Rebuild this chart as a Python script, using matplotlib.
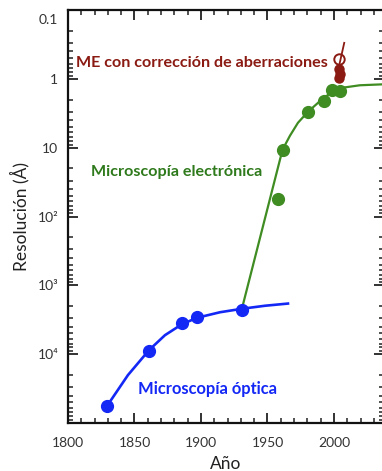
import matplotlib
matplotlib.use('Agg')
import matplotlib.pyplot as plt
import matplotlib.transforms as mtransforms
from matplotlib.ticker import FixedLocator, LogLocator, MultipleLocator, NullFormatter

plt.rcParams['font.family'] = ['Lato', 'DejaVu Sans']

# optical microscopy (year, resolution in angstrom)
optical_years = [1829.5, 1860.9, 1885.9, 1897.2, 1931.0]
optical_res = [56000, 9000, 3500, 2900, 2300]
optical_fit_years = [1829.5, 1845.1, 1860.9, 1872.9, 1885.7, 1897.0, 1914.3, 1930.8, 1948.1, 1965.4]
optical_fit_res = [56000, 20100, 8750, 5300, 3670, 2960, 2460, 2190, 1980, 1840]

# electron microscopy
electron_years = [1958.1, 1961.3, 1980.5, 1992.6, 1998.3, 2004.7]
electron_res = [55, 10.7, 3.0, 2.1, 1.44, 1.5]
electron_fit_years = [1931.0, 1961.3, 1966.9, 1972.9, 1980.5, 1988.0, 1995.5, 2001.5, 2008.3, 2019.5, 2037.6]
electron_fit_res = [2100, 10.7, 6.7, 4.35, 3.0, 2.23, 1.71, 1.44, 1.33, 1.24, 1.20]

# aberration corrected EM
corrected_years = [2004.0, 2004.5, 2003.5]
corrected_res = [0.72, 0.85, 0.97]
corrected_open_year = [2004.1]
corrected_open_res = [0.52]
corrected_line_years = [2007.7, 2001.5]
corrected_line_res = [0.30, 1.03]

ytick_vals = [0.1, 1, 10, 100, 1000, 10000]
ytick_labels = ['0.1', '1', '10', '10²', '10³', '10⁴']
xtick_vals = [1800, 1850, 1900, 1950, 2000]

blue = '#1428f5'
green = '#3f8c22'
green_txt = '#2f7a1c'
red = '#8a1a12'

fig = plt.figure(figsize=(3.82, 4.71), dpi=100)
ax = fig.add_axes([68 / 382, 48 / 471, 316 / 382, 413 / 471])

ax.plot(optical_fit_years, optical_fit_res, color=blue, lw=1.9, zorder=2)
ax.plot(optical_years, optical_res, 'o', color=blue, ms=8.5, zorder=3)

ax.plot(electron_fit_years, electron_fit_res, color=green, lw=1.6, zorder=2)
ax.plot(electron_years, electron_res, 'o', color=green, ms=8.5, zorder=3)

ax.plot(corrected_line_years, corrected_line_res, color=red, lw=1.3, zorder=4)
ax.plot(corrected_years, corrected_res, 'o', color=red, ms=6.5, zorder=4)
ax.plot(corrected_open_year, corrected_open_res, 'o', mfc='none', mec=red, mew=1.4, ms=7.5, zorder=5)

ax.text(1806, 0.59, 'ME con corrección de aberraciones', color=red, fontsize=11.6,
        fontweight='bold', ha='left', va='center')
ax.text(1817.3, 22.3, 'Microscopía electrónica', color=green_txt, fontsize=11.6,
        fontweight='bold', ha='left', va='center')
ax.text(1852.3, 32100, 'Microscopía óptica', color=blue, fontsize=11.9,
        fontweight='bold', ha='left', va='center')

ax.set_yscale('log')
ax.set_xlim(1800, 2037.6)
ax.set_ylim(1e5, 0.1)

ax.yaxis.set_major_locator(FixedLocator(ytick_vals + [1e5]))
ax.set_yticklabels(ytick_labels + [''])
ax.yaxis.set_minor_locator(LogLocator(base=10, subs=range(2, 10)))
ax.yaxis.set_minor_formatter(NullFormatter())
ax.xaxis.set_major_locator(FixedLocator(xtick_vals))
ax.xaxis.set_minor_locator(MultipleLocator(10))

ax.tick_params(which='both', direction='in', top=True, right=True, colors='#222222',
               labelcolor='#333333', labelsize=10)
ax.tick_params(axis='y', pad=7)
ax.tick_params(axis='x', pad=10)
ax.tick_params(which='major', length=7.5, width=1.3)
ax.tick_params(which='minor', length=3.8, width=1.1)
for s in ax.spines.values():
    s.set_linewidth(1.6)
    s.set_color('#111111')

# push the 0.1 label a bit below the top spine
off = mtransforms.ScaledTranslation(0, -9 / 100, fig.dpi_scale_trans)
lab = ax.get_yticklabels()[0]
lab.set_transform(lab.get_transform() + off)

ax.set_xlabel('Año', fontsize=12.5, color='#222222', labelpad=5)
ax.set_ylabel('Resolución (Å)', fontsize=12.5, color='#222222', labelpad=6)

fig.savefig('out.png', dpi=100)
